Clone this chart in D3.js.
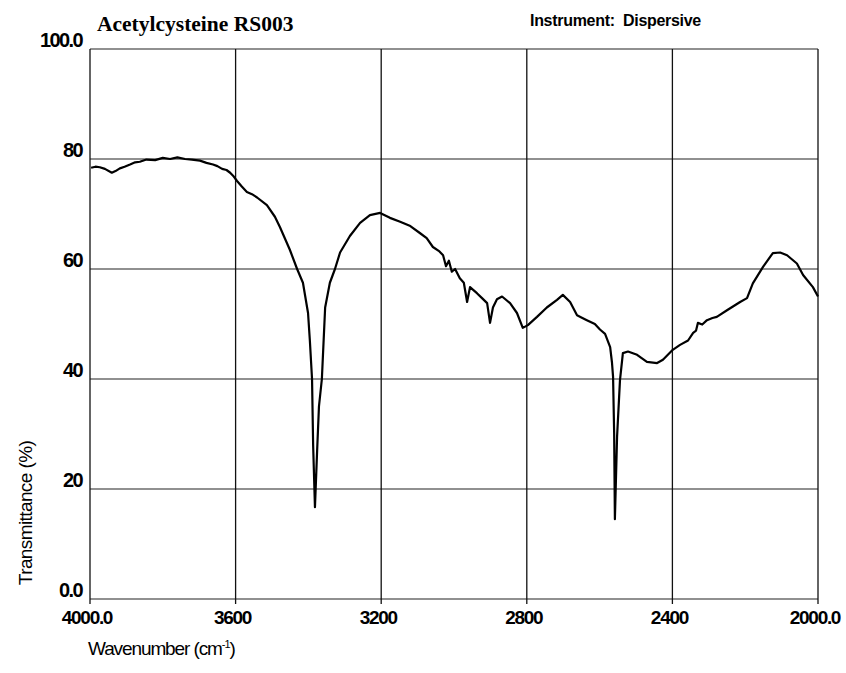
<!DOCTYPE html>
<html><head><meta charset="utf-8">
<script src="https://cdn.jsdelivr.net/npm/d3@7"></script>
<style>body{margin:0;background:#fff}svg{display:block}</style>
</head><body>
<script>
const wavenumbers = [3997,3985,3973,3959,3940,3930,3918,3905,3890,3876,3863,3845,3821,3800,3780,3760,3739,3720,3698,3680,3662,3650,3637,3625,3615,3605,3596,3583,3569,3555,3541,3514,3492,3478,3451,3431,3415,3401,3396,3390,3387,3382,3376,3371,3363,3354,3341,3327,3313,3286,3258,3231,3203,3176,3148,3120,3093,3075,3058,3040,3030,3022,3014,3006,2997,2984,2973,2964,2956,2937,2923,2909,2901,2893,2882,2868,2846,2827,2811,2797,2772,2745,2717,2701,2681,2662,2650,2635,2613,2599,2585,2571,2566,2563,2560,2558,2552,2544,2536,2522,2497,2470,2442,2426,2399,2379,2357,2343,2335,2330,2318,2305,2290,2278,2250,2214,2195,2179,2151,2124,2104,2085,2058,2041,2014,2000];
const transmittance = [78.4,78.6,78.5,78.2,77.5,77.8,78.3,78.6,79.0,79.4,79.5,79.9,79.8,80.2,80.0,80.3,80.0,79.9,79.7,79.3,79.0,78.7,78.2,78.0,77.5,76.8,76.0,75.0,74.0,73.6,73.0,71.6,69.5,67.6,63.5,60.0,57.5,52,47,40,28,16.7,27,35,40,53,57.5,60,63,66,68.4,69.8,70.2,69.3,68.6,67.8,66.5,65.6,64,63.2,62.5,60.5,61.5,59.5,60,58.3,57.5,54,56.7,55.6,54.7,53.8,50.2,53,54.5,55,53.8,52,49.3,49.8,51.3,53,54.4,55.3,54,51.6,51.2,50.7,50,49,48.2,45.8,43,40.4,30,14.5,29.5,39.8,44.7,45,44.4,43.1,42.9,43.5,45.3,46.2,47,48.4,48.8,50.2,49.9,50.7,51.1,51.3,52.5,54,54.7,57.4,60.4,62.9,63,62.5,61,58.9,56.7,55];
const xTicks = [4000,3600,3200,2800,2400,2000];
const xTickLabels = ["4000.0","3600","3200","2800","2400","2000.0"];
const yTicks = [0,20,40,60,80,100];
const yTickLabels = ["0.0","20","40","60","80","100.0"];
const title = "Acetylcysteine RS003";
const instrument = "Instrument:  Dispersive";

const W = 846, H = 673;
const svg = d3.select("body").append("svg").attr("width", W).attr("height", H);
const x = d3.scaleLinear().domain([4000, 2000]).range([90, 818]);
const y = d3.scaleLinear().domain([0, 100]).range([599, 49]);

const g = svg.append("g");
// horizontal gridlines
g.selectAll("line.h").data(yTicks).join("line")
  .attr("x1", x(4000)).attr("x2", x(2000))
  .attr("y1", d => y(d)).attr("y2", d => y(d))
  .attr("stroke", "#222").attr("stroke-width", 1.2);
// vertical gridlines
g.selectAll("line.v").data(xTicks).join("line")
  .attr("x1", d => x(d)).attr("x2", d => x(d))
  .attr("y1", y(100)).attr("y2", y(0) + 5)
  .attr("stroke", "#111").attr("stroke-width", 1.3);

// y labels
g.selectAll("text.yl").data(yTicks).join("text")
  .attr("x", 82).attr("y", d => y(d) - 2)
  .attr("text-anchor", "end")
  .attr("font-family", "Liberation Sans, Arial, sans-serif")
  .attr("font-weight", "bold").attr("font-size", 20)
  .attr("letter-spacing", -1.6)
  .text((d, i) => yTickLabels[i]);

// x labels
g.selectAll("text.xl").data(xTicks).join("text")
  .attr("x", d => x(d) - 3).attr("y", 624)
  .attr("text-anchor", "middle")
  .attr("font-family", "Liberation Sans, Arial, sans-serif")
  .attr("font-weight", "bold").attr("font-size", 19)
  .attr("letter-spacing", -1.3)
  .text((d, i) => xTickLabels[i]);

// curve
const pts = wavenumbers.map((w, i) => [w, transmittance[i]]);
g.append("path").datum(pts)
  .attr("fill", "none").attr("stroke", "#000").attr("stroke-width", 2.2)
  .attr("stroke-linejoin", "round")
  .attr("d", d3.line().x(d => x(d[0])).y(d => y(d[1])));

// titles
svg.append("text").attr("x", 97).attr("y", 31)
  .attr("font-family", "Liberation Serif, Times New Roman, serif")
  .attr("font-weight", "bold").attr("font-size", 21.5).text(title);
svg.append("text").attr("x", 530).attr("y", 26)
  .attr("xml:space", "preserve").style("white-space", "pre")
  .attr("font-family", "Liberation Sans, Arial, sans-serif")
  .attr("font-weight", "bold").attr("font-size", 16).attr("letter-spacing", -0.3)
  .text(instrument);

// axis titles
const xt = svg.append("text").attr("x", 88).attr("y", 655)
  .attr("font-family", "Liberation Sans, Arial, sans-serif")
  .attr("font-size", 19).attr("letter-spacing", -1.1);
xt.append("tspan").text("Wavenumber (cm");
xt.append("tspan").attr("dy", -7).attr("font-size", 11).text("-1");
xt.append("tspan").attr("dy", 7).text(")");

svg.append("text")
  .attr("transform", "translate(32,513) rotate(-90)")
  .attr("text-anchor", "middle")
  .attr("font-family", "Liberation Sans, Arial, sans-serif")
  .attr("font-size", 19).attr("letter-spacing", -0.6)
  .text("Transmittance (%)");
</script>
</body></html>
